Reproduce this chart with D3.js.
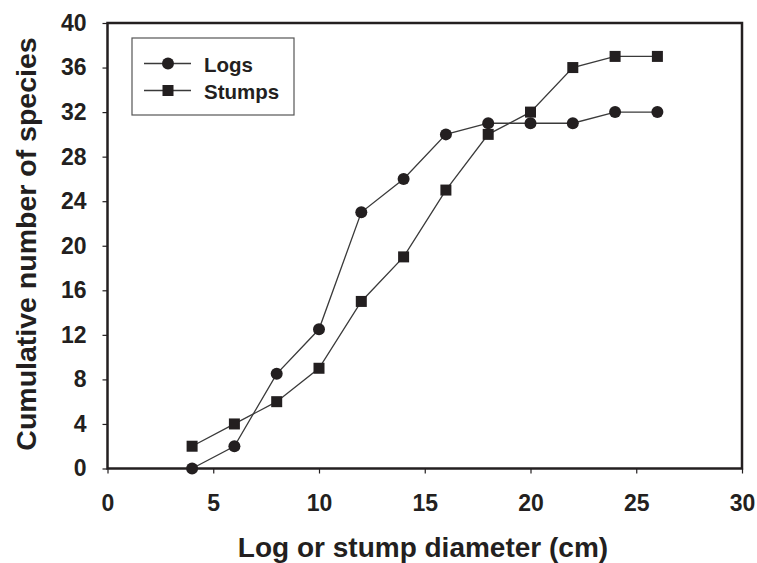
<!DOCTYPE html>
<html>
<head>
<meta charset="utf-8">
<script src="https://cdn.jsdelivr.net/npm/d3@7"></script>
<style>
body { margin: 0; background: #fff; }
svg text { font-family: "Liberation Sans", Arial, sans-serif; font-weight: bold; fill: #231f20; }
</style>
</head>
<body>
<svg id="chart" width="757" height="563"></svg>
<script>
let diameters = [4, 6, 8, 10, 12, 14, 16, 18, 20, 22, 24, 26]
let logs = [0, 2, 8.5, 12.5, 23, 26, 30, 31, 31, 31, 32, 32]
let stumps = [2, 4, 6, 9, 15, 19, 25, 30, 32, 36, 37, 37]
let x_ticks = [0, 5, 10, 15, 20, 25, 30]
let y_ticks = [0, 4, 8, 12, 16, 20, 24, 28, 32, 36, 40]

let xpad_l = 107.5
let xpad_r = 742
let ypad_t = 23
let ypad_b = 468.5
let ink = '#231f20'

let svg = d3.select('#chart')

let x = d3.scaleLinear().domain([0, 30]).range([xpad_l, xpad_r])
let y = d3.scaleLinear().domain([0, 40]).range([ypad_b, ypad_t])

// axes
let xaxis = svg.append('g')
    .attr('transform', `translate(0, ${ypad_b})`)
    .call(d3.axisBottom(x).tickValues(x_ticks).tickSize(5).tickPadding(21))
xaxis.selectAll('text').style('font-size', '23px')

let yaxis = svg.append('g')
    .attr('transform', `translate(${xpad_l}, 0)`)
    .call(d3.axisLeft(y).tickValues(y_ticks).tickSize(5).tickPadding(16))
yaxis.selectAll('text').style('font-size', '23px')

svg.selectAll('.domain').remove()
svg.selectAll('.tick line').attr('stroke', ink).attr('stroke-width', 1.2)

// frame
svg.append('rect')
    .attr('x', xpad_l).attr('y', ypad_t)
    .attr('width', xpad_r - xpad_l).attr('height', ypad_b - ypad_t)
    .attr('fill', 'none').attr('stroke', ink).attr('stroke-width', 2.5)

// titles
svg.append('text')
    .attr('x', 423).attr('y', 557)
    .attr('text-anchor', 'middle')
    .style('font-size', '28px')
    .text('Log or stump diameter (cm)')

svg.append('text')
    .attr('transform', 'translate(36, 244) rotate(-90)')
    .attr('text-anchor', 'middle')
    .style('font-size', '28.5px')
    .text('Cumulative number of species')

// series
let line = d3.line().x(d => x(d[0])).y(d => y(d[1]))
let logs_pts = diameters.map((d, i) => [d, logs[i]])
let stumps_pts = diameters.map((d, i) => [d, stumps[i]])

function draw_series(pts, shape) {
    svg.append('path')
        .datum(pts)
        .attr('d', line)
        .attr('fill', 'none')
        .attr('stroke', '#3a3a3a')
        .attr('stroke-width', 1.3)
    if (shape === 'circle') {
        svg.selectAll(null).data(pts).enter().append('circle')
            .attr('cx', d => x(d[0])).attr('cy', d => y(d[1]))
            .attr('r', 6).attr('fill', ink)
    } else {
        svg.selectAll(null).data(pts).enter().append('rect')
            .attr('x', d => x(d[0]) - 5.5).attr('y', d => y(d[1]) - 5.5)
            .attr('width', 11).attr('height', 11).attr('fill', ink)
    }
}
draw_series(stumps_pts, 'square')
draw_series(logs_pts, 'circle')

// legend
let legend = svg.append('g').attr('transform', 'translate(132, 38)')
legend.append('rect')
    .attr('width', 162).attr('height', 77)
    .attr('fill', '#fff').attr('stroke', '#555').attr('stroke-width', 1.2)
let items = [['Logs', 'circle'], ['Stumps', 'square']]
items.forEach((it, i) => {
    let cy = 25.5 + i * 27
    legend.append('line')
        .attr('x1', 12).attr('x2', 59).attr('y1', cy).attr('y2', cy)
        .attr('stroke', '#3a3a3a').attr('stroke-width', 1.3)
    if (it[1] === 'circle')
        legend.append('circle').attr('cx', 36).attr('cy', cy).attr('r', 6).attr('fill', ink)
    else
        legend.append('rect').attr('x', 30.5).attr('y', cy - 5.5).attr('width', 11).attr('height', 11).attr('fill', ink)
    legend.append('text')
        .attr('x', 72).attr('y', cy + 8)
        .style('font-size', '20.5px')
        .text(it[0])
})
</script>
</body>
</html>
